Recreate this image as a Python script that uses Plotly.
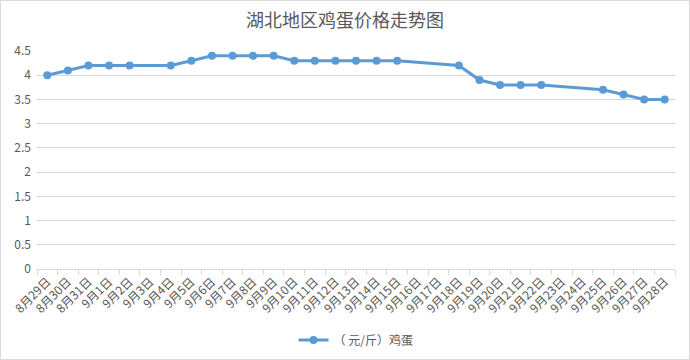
import plotly.graph_objects as go

dates = ["8月29日", "8月30日", "8月31日"] + [f"9月{d}日" for d in range(1, 29)]
prices = [4.0, 4.1, 4.2, 4.2, 4.2, None, 4.2, 4.3, 4.4, 4.4, 4.4, 4.4,
          4.3, 4.3, 4.3, 4.3, 4.3, 4.3, None, None, 4.2, 3.9, 3.8, 3.8,
          3.8, None, None, 3.7, 3.6, 3.5, 3.5]
y_ticks = [0, 0.5, 1, 1.5, 2, 2.5, 3, 3.5, 4, 4.5]

FONT = "Noto Sans CJK SC, Microsoft YaHei, sans-serif"
W, H = 690, 360
L, R, T, B = 37, 15, 51, 91
pw, ph = W - L - R, H - T - B

fig = go.Figure()
fig.add_trace(go.Scatter(
    x=dates, y=prices, mode="lines+markers", name="（ 元/斤）鸡蛋",
    connectgaps=True,
    line=dict(color="#5B9BD5", width=3),
    marker=dict(color="#5B9BD5", size=8),
))

fig.update_layout(
    width=W, height=H,
    margin=dict(l=L, r=R, t=T, b=B, autoexpand=False),
    paper_bgcolor="white", plot_bgcolor="white",
    font=dict(family=FONT, color="#595959", size=12),
    title=dict(text="湖北地区鸡蛋价格走势图", x=0.5, xanchor="center",
               y=1 - 21 / H, yanchor="middle",
               font=dict(size=18, color="#595959", family=FONT)),
    showlegend=True,
    legend=dict(orientation="h", x=0.5, xanchor="center", y=-(340 - 269) / ph,
                yanchor="middle", font=dict(size=12, color="#595959")),
    xaxis=dict(type="category", tickangle=-45, tickson="boundaries",
               ticks="outside", ticklen=5, tickcolor="#d9d9d9",
               showline=True, linecolor="#d9d9d9", linewidth=1,
               showgrid=False, tickfont=dict(size=12, color="#595959"),
               automargin=False,
               range=[-0.5, len(dates) - 0.5]),
    yaxis=dict(range=[0, 4.5], tickvals=y_ticks, showgrid=True,
               gridcolor="#d9d9d9", gridwidth=1, zeroline=False,
               showline=False, ticks="", automargin=False,
               ticklabelstandoff=5,
               tickfont=dict(size=12, color="#595959")),
    shapes=[dict(type="rect", xref="paper", yref="paper",
                 x0=-(L - 0.5) / pw, x1=1 + (R - 0.5) / pw,
                 y0=-(B - 0.5) / ph, y1=1 + (T - 0.5) / ph,
                 line=dict(color="#d9d9d9", width=1))],
)

fig.write_html("out.html", config={"displayModeBar": False},
               post_script="document.body.style.margin='0';document.body.style.overflow='hidden';")
